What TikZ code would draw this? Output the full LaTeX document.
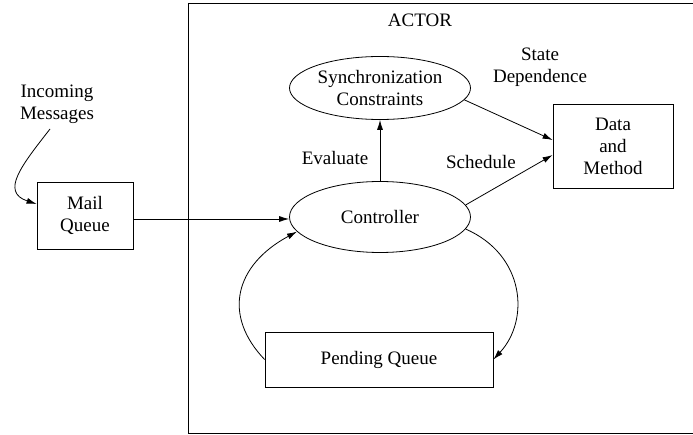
\documentclass[tikz,border=0pt]{standalone}
\usepackage{fontspec}
\setmainfont{Liberation Serif}
\usetikzlibrary{arrows.meta,shapes.geometric}
\begin{document}
\begin{tikzpicture}[x=1pt,y=-1pt,
  every node/.style={font=\fontsize{19}{22}\selectfont, align=center},
  boxnode/.style={draw, rectangle, inner sep=0pt},
  ellnode/.style={draw, ellipse, inner sep=0pt},
  lbl/.style={inner sep=0pt},
  arr/.style={-{Latex[length=10pt,width=6pt]}},
  line width=0.8pt]
\useasboundingbox (0,0) rectangle (693,435);
\draw (188,3) -- (700,3) (188,3) -- (188,433) -- (700,433);
\node[lbl] (actor) at (420,20) {ACTOR};
\node[boxnode, minimum width=96pt, minimum height=67pt] (mail) at (85,215.5) {Mail\\Queue};
\node[ellnode, minimum width=181pt, minimum height=71pt] (ctrl) at (380,217) {Controller};
\node[ellnode, minimum width=181pt, minimum height=63pt] (sync) at (380,88) {Synchronization\\Constraints};
\node[boxnode, minimum width=120pt, minimum height=84pt] (data) at (613,146) {Data\\and\\Method};
\node[boxnode, minimum width=228pt, minimum height=55pt] (pend) at (379,359.5) {Pending Queue};
\node[lbl] (inc) at (57,104) {Incoming\\Messages};
\node[lbl] (eval) at (335,158) {Evaluate};
\node[lbl] (sched) at (481,162) {Schedule};
\node[lbl] (state) at (540,67) {State\\Dependence};
\coordinate (incs) at (50,129);
\draw[arr] (incs) .. controls (22,165) and (0,192) .. (mail.west |- 0,204);
\draw[arr] (mail.east |- 0,219) -- (ctrl.west |- 0,219);
\draw[arr] (ctrl.north) -- (sync.south);
\draw[arr] (ctrl.8) -- (data.west |- 0,155);
\draw[arr] (sync.-8) -- (data.west |- 0,140);
\draw[arr] (pend.west) .. controls (222,315) and (235,265) .. (ctrl.190);
\draw[arr] (ctrl.-8) .. controls (525,255) and (530,320) .. (pend.east);
\end{tikzpicture}
\end{document}
